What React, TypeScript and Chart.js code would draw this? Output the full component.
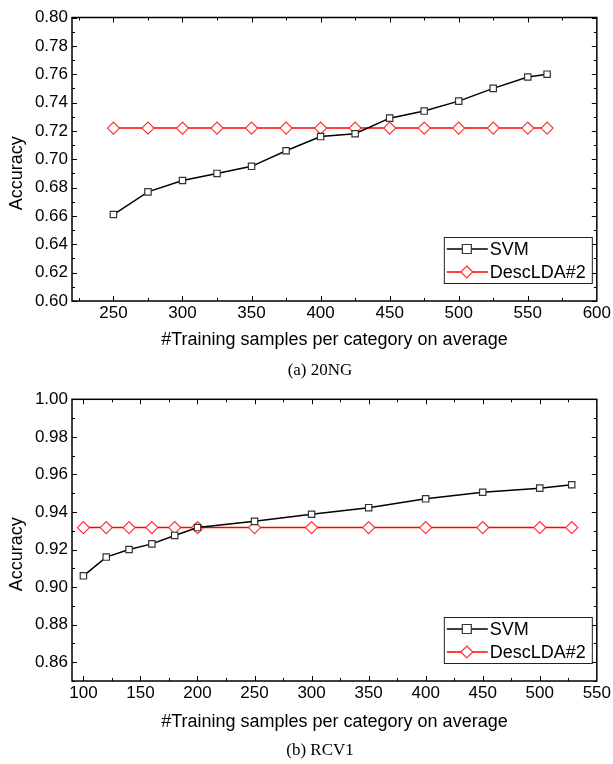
import React, { useEffect, useRef } from 'react';
import { Chart, registerables } from 'chart.js';

Chart.register(...registerables);

// ---------- Data: (a) 20NG ----------
const ngSamples = [250, 275, 300, 325, 350, 375, 400, 425, 450, 475, 500, 525, 550, 564];
const ngSVM = [0.661, 0.677, 0.685, 0.690, 0.695, 0.706, 0.716, 0.718, 0.729, 0.734, 0.741, 0.750, 0.758, 0.760];
const ngDescLDA = [0.722, 0.722, 0.722, 0.722, 0.722, 0.722, 0.722, 0.722, 0.722, 0.722, 0.722, 0.722, 0.722, 0.722];
const ngXTicks = [250, 300, 350, 400, 450, 500, 550, 600];
const ngYTicks = [0.60, 0.62, 0.64, 0.66, 0.68, 0.70, 0.72, 0.74, 0.76, 0.78, 0.80];

// ---------- Data: (b) RCV1 ----------
const rcvSamples = [100, 120, 140, 160, 180, 200, 250, 300, 350, 400, 450, 500, 528];
const rcvSVM = [0.906, 0.916, 0.920, 0.923, 0.9275, 0.9317, 0.935, 0.9388, 0.9423, 0.947, 0.9505, 0.9527, 0.9545];
const rcvDescLDA = [0.9317, 0.9317, 0.9317, 0.9317, 0.9317, 0.9317, 0.9317, 0.9317, 0.9317, 0.9317, 0.9317, 0.9317, 0.9317];
const rcvXTicks = [100, 150, 200, 250, 300, 350, 400, 450, 500, 550];
const rcvYTicks = [0.86, 0.88, 0.90, 0.92, 0.94, 0.96, 0.98, 1.00];

const seriesNames = ['SVM', 'DescLDA#2'];
const xTitle = '#Training samples per category on average';
const yTitle = 'Accuracy';

const SANS = '"Liberation Sans", Arial, sans-serif';

const framePlugin = {
  id: 'frameTicks',
  afterDatasetsDraw(chart: any, _args: any, opts: any) {
    const { ctx, chartArea } = chart;
    const { left, right, top, bottom } = chartArea;
    const xs = chart.scales.x;
    const ys = chart.scales.y;
    ctx.save();
    ctx.strokeStyle = '#000';
    ctx.lineWidth = 1;
    const major = 5;
    const minor = 3;
    const xMaj: number[] = opts.xTicks;
    const yMaj: number[] = opts.yTicks;
    const xMin: number[] = [];
    for (let i = 0; i < xMaj.length - 1; i++) xMin.push((xMaj[i] + xMaj[i + 1]) / 2);
    if (xMaj.length > 1) {
      const st = xMaj[1] - xMaj[0];
      const v = xMaj[0] - st / 2;
      if (v > xs.min) xMin.push(v);
    }
    const yMin: number[] = [];
    for (let i = 0; i < yMaj.length - 1; i++) yMin.push((yMaj[i] + yMaj[i + 1]) / 2);
    if (yMaj.length > 1) {
      const st = yMaj[1] - yMaj[0];
      const v = yMaj[0] - st / 2;
      if (v >= ys.min - 1e-9) yMin.push(v);
    }
    ctx.beginPath();
    const xTick = (v: number, len: number) => {
      const px = Math.round(xs.getPixelForValue(v)) + 0.5;
      if (px < left || px > right) return;
      ctx.moveTo(px, bottom); ctx.lineTo(px, bottom - len);
      ctx.moveTo(px, top); ctx.lineTo(px, top + len);
    };
    const yTick = (v: number, len: number) => {
      const py = Math.round(ys.getPixelForValue(v)) + 0.5;
      if (py < top - 0.5 || py > bottom + 0.5) return;
      ctx.moveTo(left, py); ctx.lineTo(left + len, py);
      ctx.moveTo(right, py); ctx.lineTo(right - len, py);
    };
    xMaj.forEach((v) => xTick(v, major));
    xMin.forEach((v) => xTick(v, minor));
    yMaj.forEach((v) => yTick(v, major));
    yMin.forEach((v) => yTick(v, minor));
    ctx.stroke();
    ctx.lineWidth = 1.5;
    ctx.strokeRect(left, top, right - left, bottom - top);

    // y-axis title, slightly below the plot's centre as in the original
    ctx.fillStyle = '#000';
    ctx.font = `18px ${SANS}`;
    ctx.textAlign = 'center';
    ctx.textBaseline = 'middle';
    ctx.translate(17, (top + bottom) / 2 + 14);
    ctx.rotate(-Math.PI / 2);
    ctx.fillText(opts.yTitle, 0, 0);
    ctx.restore();
  },
};

const legendPlugin = {
  id: 'boxLegend',
  afterDraw(chart: any) {
    const { ctx, chartArea } = chart;
    const w = 148;
    const h = 46;
    const x0 = chartArea.right - 5 - w;
    const y0 = chartArea.bottom - 18 - h;
    ctx.save();
    ctx.fillStyle = '#fff';
    ctx.fillRect(x0, y0, w, h);
    ctx.strokeStyle = '#222';
    ctx.lineWidth = 1;
    ctx.strokeRect(x0 + 0.5, y0 + 0.5, w, h);
    const items = chart.data.datasets;
    items.forEach((ds: any, i: number) => {
      const yy = y0 + 12 + i * 23;
      ctx.strokeStyle = ds.borderColor;
      ctx.lineWidth = ds.borderWidth;
      ctx.beginPath();
      ctx.moveTo(x0 + 3, yy);
      ctx.lineTo(x0 + 44, yy);
      ctx.stroke();
      const mx = x0 + 23;
      ctx.fillStyle = '#fff';
      ctx.strokeStyle = ds.pointBorderColor;
      ctx.lineWidth = 1.2;
      ctx.beginPath();
      if (ds.pointStyle === 'rect') {
        const r = 4.5;
        ctx.rect(mx - r, yy - r, 2 * r, 2 * r);
      } else {
        const r = 6;
        ctx.moveTo(mx, yy - r);
        ctx.lineTo(mx + r, yy);
        ctx.lineTo(mx, yy + r);
        ctx.lineTo(mx - r, yy);
        ctx.closePath();
      }
      ctx.fill();
      ctx.stroke();
      ctx.fillStyle = '#000';
      ctx.font = `18px ${SANS}`;
      ctx.textBaseline = 'middle';
      ctx.textAlign = 'left';
      ctx.fillText(ds.label, x0 + 46, yy + 1);
    });
    ctx.restore();
  },
};

type PanelProps = {
  xs: number[];
  svm: number[];
  desc: number[];
  xTicks: number[];
  yTicks: number[];
  xMin: number;
  xMax: number;
  yMin: number;
  yMax: number;
  height: number;
  padTop: number;
  xAxisHeight: number;
  titleBottom: number;
};

function Panel(p: PanelProps) {
  const ref = useRef<HTMLCanvasElement | null>(null);
  useEffect(() => {
    if (!ref.current) return;
    const chart = new Chart(ref.current, {
      type: 'line',
      data: {
        datasets: [
          {
            label: seriesNames[0],
            data: p.xs.map((x, i) => ({ x, y: p.svm[i] })),
            borderColor: '#000000',
            borderWidth: 1.5,
            pointStyle: 'rect',
            pointRadius: 4.5,
            pointBackgroundColor: '#ffffff',
            pointBorderColor: '#333333',
            pointBorderWidth: 1.2,
            order: 0,
          } as any,
          {
            label: seriesNames[1],
            data: p.xs.map((x, i) => ({ x, y: p.desc[i] })),
            borderColor: '#ff0000',
            borderWidth: 1.5,
            pointStyle: 'rectRot',
            pointRadius: 6,
            pointBackgroundColor: '#ffffff',
            pointBorderColor: '#ff3030',
            pointBorderWidth: 1.2,
            order: 1,
          } as any,
        ],
      },
      options: {
        animation: false,
        responsive: false,
        maintainAspectRatio: false,
        layout: { padding: { left: 0, right: 16, top: p.padTop, bottom: 0 } },
        plugins: {
          legend: { display: false },
          tooltip: { enabled: false },
          frameTicks: { xTicks: p.xTicks, yTicks: p.yTicks, yTitle },
        } as any,
        scales: {
          x: {
            type: 'linear',
            min: p.xMin,
            max: p.xMax,
            grid: { display: false, drawTicks: false },
            border: { display: false },
            afterBuildTicks: (s: any) => {
              s.ticks = p.xTicks.map((v) => ({ value: v }));
            },
            afterFit: (s: any) => {
              s.height = p.xAxisHeight;
            },
            ticks: {
              color: '#000',
              font: { family: SANS, size: 17 },
              padding: 2,
              maxRotation: 0,
              autoSkip: false,
              callback: (v: any) => String(v),
            },
            title: {
              display: true,
              text: xTitle,
              color: '#000',
              font: { family: SANS, size: 18 },
              padding: { top: 0, bottom: p.titleBottom },
            },
          },
          y: {
            type: 'linear',
            min: p.yMin,
            max: p.yMax,
            grid: { display: false, drawTicks: false },
            border: { display: false },
            afterBuildTicks: (s: any) => {
              s.ticks = p.yTicks.map((v) => ({ value: v }));
            },
            afterFit: (s: any) => {
              s.width = 72;
            },
            ticks: {
              color: '#000',
              font: { family: SANS, size: 17 },
              padding: 4,
              autoSkip: false,
              callback: (v: any) => Number(v).toFixed(2),
            },
          },
        },
      } as any,
      plugins: [framePlugin, legendPlugin],
    });
    return () => chart.destroy();
  }, []);
  return <canvas ref={ref} width={613} height={p.height} style={{ display: 'block', width: 613, height: p.height }} />;
}

export default function App() {
  useEffect(() => {
    document.body.style.margin = '0';
  }, []);
  const caption: React.CSSProperties = {
    position: 'absolute',
    left: 0,
    width: 640,
    textAlign: 'center',
    fontFamily: '"Liberation Serif", "Times New Roman", serif',
    fontSize: 17,
    color: '#000',
    lineHeight: '20px',
  };
  return (
    <div style={{ position: 'relative', width: 613, height: 764, background: '#fff', overflow: 'hidden' }}>
      <div style={{ position: 'absolute', left: 0, top: 0 }}>
        <Panel
          xs={ngSamples}
          svm={ngSVM}
          desc={ngDescLDA}
          xTicks={ngXTicks}
          yTicks={ngYTicks}
          xMin={220}
          xMax={600}
          yMin={0.6}
          yMax={0.8}
          height={380}
          padTop={17.5}
          xAxisHeight={79}
          titleBottom={29}
        />
      </div>
      <div style={{ ...caption, top: 360 }}>(a) 20NG</div>
      <div style={{ position: 'absolute', left: 0, top: 380 }}>
        <Panel
          xs={rcvSamples}
          svm={rcvSVM}
          desc={rcvDescLDA}
          xTicks={rcvXTicks}
          yTicks={rcvYTicks}
          xMin={90}
          xMax={550}
          yMin={0.85}
          yMax={1.0}
          height={384}
          padTop={19.3}
          xAxisHeight={83}
          titleBottom={31}
        />
      </div>
      <div style={{ ...caption, top: 740 }}>(b) RCV1</div>
    </div>
  );
}
